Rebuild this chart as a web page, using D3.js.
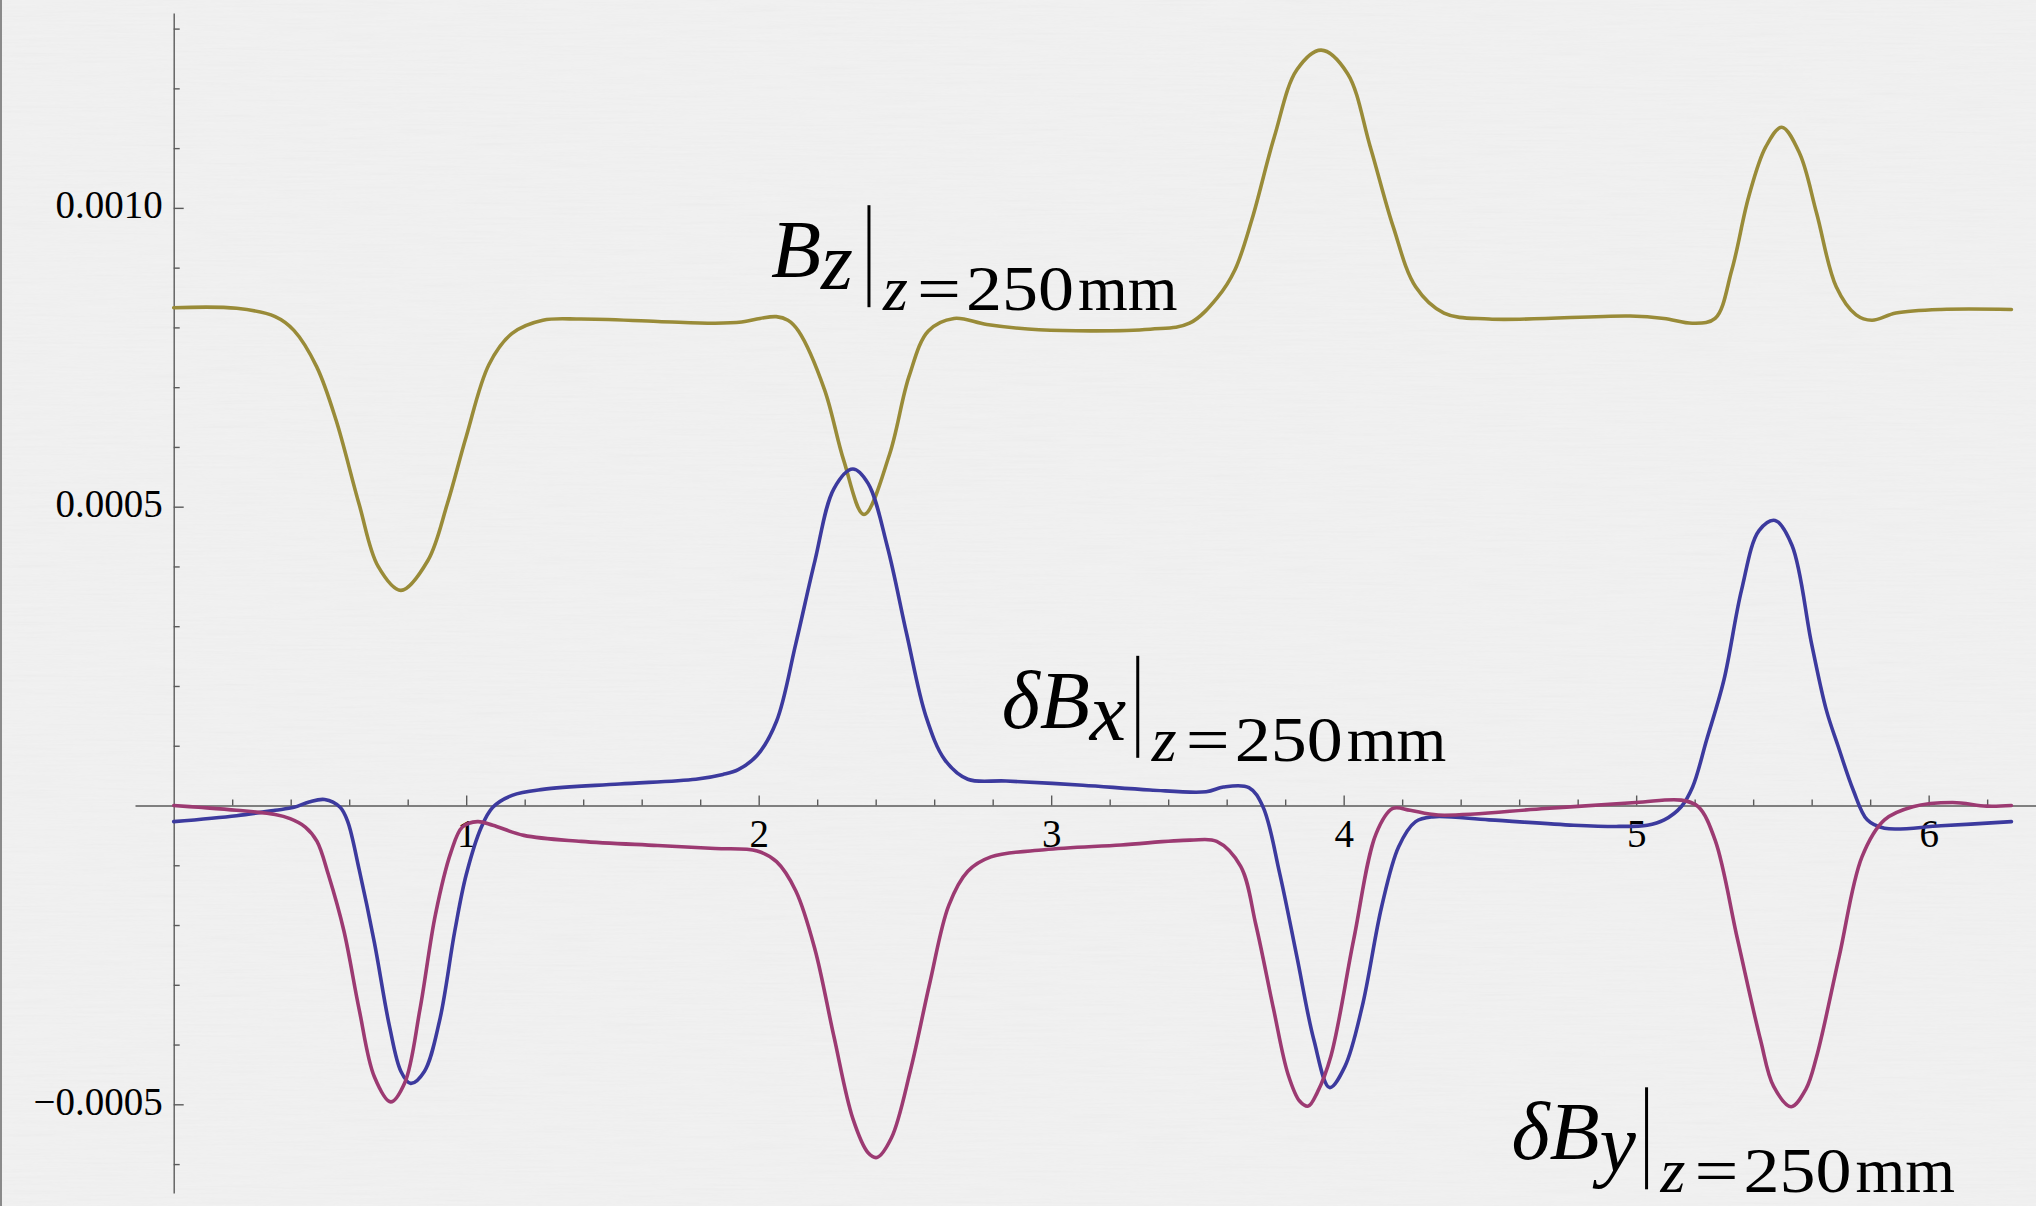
<!DOCTYPE html>
<html>
<head>
<meta charset="utf-8">
<script src="https://cdn.jsdelivr.net/npm/d3@7"></script>
<style>
  html, body { margin: 0; padding: 0; background: #f1f1f1; overflow: hidden; }
  .tick text { font-family: "Liberation Serif", "Times New Roman", serif; fill: #000; }
  .lbl { font-family: "Liberation Serif", "Times New Roman", serif; fill: #000; }
</style>
</head>
<body>
<div id="chart"></div>
<script>
// ticks
const xTicksMajor = [1, 2, 3, 4, 5, 6];
const xTicksMinor = [0.2, 0.4, 0.6, 0.8, 1.2, 1.4, 1.6, 1.8, 2.2, 2.4, 2.6, 2.8,
    3.2, 3.4, 3.6, 3.8, 4.2, 4.4, 4.6, 4.8, 5.2, 5.4, 5.6, 5.8, 6.2];
const yTicksMajor = [-0.0005, 0.0005, 0.0010];
const yTickLabels = ["\u22120.0005", "0.0005", "0.0010"];
const yTicksMinor = [-0.0006, -0.0004, -0.0003, -0.0002, -0.0001, 0.0001, 0.0002, 0.0003,
    0.0004, 0.0006, 0.0007, 0.0008, 0.0009, 0.0011, 0.0012, 0.0013];

// B_z at z = 250mm
const bzData = [
    [0, 0.000833], [0.215, 0.000832], [0.347, 0.000818], [0.411, 0.000795], [0.489, 0.000734],
    [0.555, 0.000645], [0.634, 0.000504], [0.699, 0.000400], [0.777, 0.000360], [0.869, 0.000410],
    [0.935, 0.000504], [1.000, 0.000617], [1.078, 0.000738], [1.157, 0.000790], [1.262, 0.000812],
    [1.393, 0.000814], [1.655, 0.000810], [1.851, 0.000807], [1.942, 0.000809], [2.005, 0.000815],
    [2.060, 0.000818], [2.100, 0.000812], [2.136, 0.000794], [2.225, 0.000696], [2.291, 0.000577],
    [2.360, 0.000487], [2.447, 0.000587], [2.514, 0.000718], [2.580, 0.000794], [2.668, 0.000815],
    [2.780, 0.000805], [2.958, 0.000796], [3.339, 0.000797], [3.473, 0.000807], [3.570, 0.000851],
    [3.628, 0.000896], [3.686, 0.000980], [3.763, 0.001119], [3.840, 0.001231], [3.923, 0.001264],
    [4.013, 0.001225], [4.091, 0.001102], [4.169, 0.000969], [4.246, 0.000868], [4.343, 0.000824],
    [4.497, 0.000814], [4.980, 0.000819], [5.095, 0.000815], [5.193, 0.000807], [5.270, 0.000815],
    [5.327, 0.000896], [5.385, 0.001019], [5.443, 0.001102], [5.498, 0.001135], [5.559, 0.001091],
    [5.617, 0.000991], [5.684, 0.000868], [5.752, 0.000821], [5.806, 0.000812], [5.888, 0.000824],
    [6.042, 0.000830], [6.283, 0.000830]
];

// delta B_x at z = 250mm
const bxData = [
    [0, -0.000027], [0.215, -0.000017], [0.347, -0.000008], [0.411, -0.000003], [0.463, 0.000006],
    [0.516, 0.000010], [0.569, -0.000003], [0.595, -0.000027], [0.634, -0.000107], [0.686, -0.000229],
    [0.738, -0.000370], [0.777, -0.000445], [0.810, -0.000465], [0.857, -0.000445], [0.909, -0.000360],
    [0.961, -0.000210], [1.000, -0.000116], [1.052, -0.000036], [1.091, -0.000003], [1.157, 0.000017],
    [1.262, 0.000027], [1.524, 0.000036], [1.785, 0.000044], [1.878, 0.000052], [1.930, 0.000060],
    [1.995, 0.000084], [2.061, 0.000141], [2.127, 0.000271], [2.192, 0.000409], [2.257, 0.000530],
    [2.322, 0.000563], [2.374, 0.000539], [2.440, 0.000433], [2.506, 0.000287], [2.572, 0.000149],
    [2.637, 0.000076], [2.715, 0.000044], [2.846, 0.000041], [3.108, 0.000034], [3.338, 0.000026],
    [3.530, 0.000023], [3.589, 0.000031], [3.676, 0.000030], [3.724, -0.000002], [3.781, -0.000113],
    [3.840, -0.000253], [3.898, -0.000392], [3.952, -0.000472], [4.004, -0.000437], [4.063, -0.000337],
    [4.130, -0.000169], [4.188, -0.000069], [4.246, -0.000027], [4.304, -0.000019], [4.497, -0.000024],
    [4.787, -0.000033], [4.941, -0.000035], [5.038, -0.000033], [5.096, -0.000024], [5.154, -0.000002],
    [5.193, 0.000031], [5.241, 0.000110], [5.300, 0.000210], [5.360, 0.000360], [5.420, 0.000460],
    [5.475, 0.000477], [5.533, 0.000435], [5.600, 0.000270], [5.650, 0.000160], [5.690, 0.000100],
    [5.742, 0.000026], [5.790, -0.000024], [5.849, -0.000038], [6.042, -0.000034], [6.283, -0.000027]
];

// delta B_y at z = 250mm
const byData = [
    [0, 0], [0.085, -0.000003], [0.215, -0.000008], [0.347, -0.000015], [0.398, -0.000022],
    [0.450, -0.000036], [0.490, -0.000060], [0.529, -0.000116], [0.582, -0.000210], [0.634, -0.000341],
    [0.686, -0.000454], [0.742, -0.000496], [0.790, -0.000464], [0.842, -0.000341], [0.895, -0.000182],
    [0.948, -0.000078], [0.987, -0.000036], [1.039, -0.000027], [1.091, -0.000033], [1.197, -0.000050],
    [1.393, -0.000060], [1.655, -0.000067], [1.851, -0.000072], [1.995, -0.000076], [2.061, -0.000094],
    [2.127, -0.000143], [2.192, -0.000240], [2.257, -0.000386], [2.322, -0.000524], [2.374, -0.000581],
    [2.404, -0.000589], [2.454, -0.000556], [2.519, -0.000443], [2.585, -0.000297], [2.650, -0.000167],
    [2.715, -0.000110], [2.794, -0.000086], [2.977, -0.000074], [3.239, -0.000066], [3.475, -0.000058],
    [3.566, -0.000060], [3.648, -0.000102], [3.700, -0.000200], [3.760, -0.000340], [3.810, -0.000450],
    [3.850, -0.000495], [3.879, -0.000503], [3.910, -0.000480], [3.956, -0.000420], [4.034, -0.000225],
    [4.111, -0.000047], [4.168, -0.000005], [4.227, -0.000008], [4.323, -0.000016], [4.690, -0.000005],
    [4.999, 0.000005], [5.154, 0.000009], [5.212, -0.000002], [5.270, -0.000058], [5.347, -0.000225],
    [5.425, -0.000392], [5.470, -0.000470], [5.530, -0.000504], [5.580, -0.000475], [5.617, -0.000420],
    [5.694, -0.000253], [5.772, -0.000086], [5.849, -0.000024], [5.946, -0.000002], [6.082, 0.000005],
    [6.198, -0.000001], [6.283, 0]
];

const seriesList = [bzData, bxData, byData];
const seriesColors = ["#998b38", "#3c3a9e", "#9c3a72"];

// curve labels: anchor in data units, sub = subscript letter, delta prefix
const labelAnchors = [[2.042, 0.000884], [2.831, 0.000130], [4.574, -0.000592]];
const labelSubs = ["z", "x", "y"];
const labelDelta = [false, true, true];

function renderChart() {
    const width = 2036, height = 1206;

    const svg = d3.select("#chart").append("svg")
        .attr("width", width)
        .attr("height", height);

    // paper background
    const defs = svg.append("defs");
    const paper = defs.append("filter").attr("id", "paper")
        .attr("x", 0).attr("y", 0).attr("width", "100%").attr("height", "100%");
    paper.append("feTurbulence")
        .attr("type", "fractalNoise")
        .attr("baseFrequency", "0.015 0.45")
        .attr("numOctaves", 2)
        .attr("seed", 4);
    paper.append("feColorMatrix").attr("type", "saturate").attr("values", 0);

    svg.append("rect").attr("width", width).attr("height", height).attr("fill", "#f1f1f1");
    svg.append("rect").attr("width", width).attr("height", height)
        .attr("filter", "url(#paper)").attr("opacity", 0.05);
    svg.append("line")
        .attr("x1", 1).attr("x2", 1).attr("y1", 0).attr("y2", height)
        .attr("stroke", "#8a8a8a").attr("stroke-width", 2);

    const x = d3.scaleLinear()
        .domain([-0.1323, 6.367])
        .range([135, 2036]);

    const y = d3.scaleLinear()
        .domain([-0.0006484, 0.0013261])
        .range([1193, 13]);

    const axisColor = "#5a5a5a";

    // x axis
    svg.append("g")
        .attr("transform", "translate(0," + y(0) + ")")
        .call(d3.axisBottom(x).tickValues(xTicksMinor).tickSize(-6).tickSizeOuter(0).tickFormat(""))
        .call(g => g.select(".domain").remove());

    const xAxis = svg.append("g")
        .attr("transform", "translate(0," + y(0) + ")")
        .call(d3.axisBottom(x).tickValues(xTicksMajor).tickSize(-10).tickSizeOuter(0)
            .tickPadding(14).tickFormat(d => d));
    xAxis.selectAll("text").style("font-size", "39px");

    // y axis
    svg.append("g")
        .attr("transform", "translate(" + x(0) + ",0)")
        .call(d3.axisLeft(y).tickValues(yTicksMinor).tickSize(-6).tickSizeOuter(0).tickFormat(""))
        .call(g => g.select(".domain").remove());

    const yAxis = svg.append("g")
        .attr("transform", "translate(" + x(0) + ",0)")
        .call(d3.axisLeft(y).tickValues(yTicksMajor).tickSize(-10).tickSizeOuter(0)
            .tickPadding(11).tickFormat((d, i) => yTickLabels[i]));
    yAxis.selectAll("text").style("font-size", "39px").attr("dy", "0.25em");

    svg.selectAll(".domain, .tick line")
        .attr("stroke", axisColor)
        .attr("stroke-width", 1.4);

    // curves
    const line = d3.line()
        .x(d => x(d[0]))
        .y(d => y(d[1]))
        .curve(d3.curveCatmullRom.alpha(0.5));

    svg.append("g")
        .selectAll("path")
        .data(seriesList)
        .enter()
        .append("path")
        .attr("d", d => line(d))
        .attr("fill", "none")
        .attr("stroke", (d, i) => seriesColors[i])
        .attr("stroke-width", 3.6)
        .attr("stroke-linejoin", "round")
        .attr("stroke-linecap", "round");

    // labels
    labelAnchors.forEach(function (a, i) {
        renderCurveLabel(svg, x(a[0]), y(a[1]), labelDelta[i], labelSubs[i]);
    });
}

function renderCurveLabel(svg, px, py, hasDelta, sub) {
    const g = svg.append("g")
        .attr("transform", "translate(" + px + "," + py + ")");

    const bx = hasDelta ? 38 : 0;
    const big = "82px", small = "64px";

    if (hasDelta) {
        g.append("text").attr("class", "lbl").attr("x", 0).attr("y", 0)
            .style("font-size", big).style("font-style", "italic").text("\u03b4");
    }
    g.append("text").attr("class", "lbl").attr("x", bx).attr("y", 0)
        .style("font-size", big).style("font-style", "italic").text("B");
    g.append("text").attr("class", "lbl").attr("x", bx + 50).attr("y", 12)
        .style("font-size", big).style("font-style", "italic").text(sub);

    const barX = bx + (sub === "y" ? 97 : 98);
    g.append("line")
        .attr("x1", barX).attr("x2", barX)
        .attr("y1", -72).attr("y2", 30)
        .attr("stroke", "#000").attr("stroke-width", 3);

    g.append("text").attr("class", "lbl").attr("x", barX + 14).attr("y", 33)
        .style("font-size", small).style("font-style", "italic").text("z");
    g.append("text").attr("class", "lbl").attr("x", barX + 48).attr("y", 33)
        .style("font-size", small)
        .attr("textLength", 44).attr("lengthAdjust", "spacingAndGlyphs").text("=");
    g.append("text").attr("class", "lbl").attr("x", barX + 97).attr("y", 33)
        .style("font-size", small)
        .attr("textLength", 108).attr("lengthAdjust", "spacingAndGlyphs").text("250");
    g.append("text").attr("class", "lbl").attr("x", barX + 209).attr("y", 33)
        .style("font-size", small).text("mm");
}

renderChart();
</script>
</body>
</html>
